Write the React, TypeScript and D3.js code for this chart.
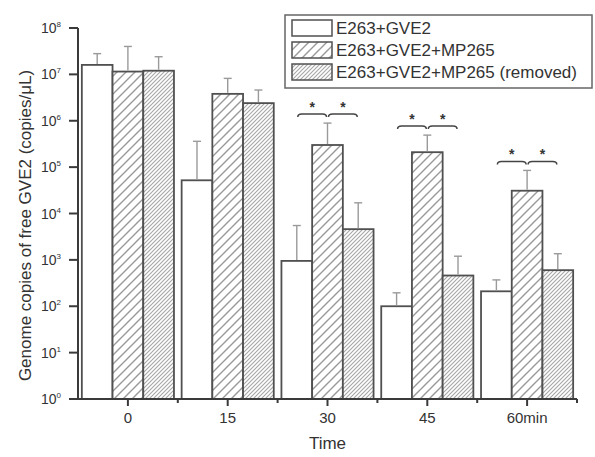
import React, {Component} from 'react';
import * as d3 from 'd3';

const categories = ['0', '15', '30', '45', '60min'];
const seriesNames = ['E263+GVE2', 'E263+GVE2+MP265', 'E263+GVE2+MP265 (removed)'];
const gve2 = [1.6e7, 5.2e4, 9.5e2, 1.0e2, 2.1e2];
const gve2Err = [2.8e7, 3.6e5, 5.5e3, 1.95e2, 3.7e2];
const mp265 = [1.15e7, 3.8e6, 3.0e5, 2.1e5, 3.1e4];
const mp265Err = [4.0e7, 8.2e6, 8.9e5, 4.9e5, 8.5e4];
const removed = [1.2e7, 2.4e6, 4.6e3, 4.6e2, 6.0e2];
const removedErr = [2.4e7, 4.6e6, 1.7e4, 1.2e3, 1.36e3];
const significant = [false, false, true, true, true];
const yTickExps = [0, 1, 2, 3, 4, 5, 6, 7, 8];

const W = 595;
const H = 457;
const FONT = '"Liberation Sans", Arial, sans-serif';

class App extends Component {
    svgRef = React.createRef<SVGSVGElement>();

    componentDidMount() {
        this.draw();
    }

    draw() {
        const svg = d3.select(this.svgRef.current);
        svg.selectAll('*').remove();

        const axisColor = '#3a3a3a';
        const barStroke = '#505050';
        const errColor = '#9a9a9a';

        const defs = svg.append('defs');
        // "/" hatching drawn straight into a square tile (no rotation)
        const addHatch = (id, s, width, color) => {
            const p = defs.append('pattern')
                .attr('id', id)
                .attr('patternUnits', 'userSpaceOnUse')
                .attr('width', s)
                .attr('height', s);
            p.append('rect').attr('width', s).attr('height', s).attr('fill', 'white');
            p.append('path')
                .attr('d', `M0,${s} L${s},0 M-1,1 L1,-1 M${s - 1},${s + 1} L${s + 1},${s - 1}`)
                .attr('stroke', color)
                .attr('stroke-width', width)
                .attr('fill', 'none');
        };
        addHatch('hatchWide', 9, 1.4, '#999');
        addHatch('hatchDense', 4, 1.1, '#a6a6a6');
        const fills = ['white', 'url(#hatchWide)', 'url(#hatchDense)'];

        const x0 = 78, x1 = 577, yBottom = 399, yTop = 28;

        const xScale = d3.scaleBand()
            .domain(categories)
            .range([x0, x1])
            .paddingInner(0)
            .paddingOuter(0);
        const xInner = d3.scaleBand()
            .domain(['0', '1', '2'])
            .range([0, xScale.bandwidth()])
            .paddingOuter(0.125)
            .paddingInner(0);
        const yScale = d3.scaleLog()
            .domain([1, 1e8])
            .range([yBottom, yTop]);

        const series = [gve2, mp265, removed];
        const errs = [gve2Err, mp265Err, removedErr];

        const plot = svg.append('g');

        // bars
        series.forEach((vals, s) => {
            plot.selectAll('.bar' + s)
                .data(vals)
                .join('rect')
                .attr('x', (d, i) => xScale(categories[i]) + xInner(String(s)))
                .attr('y', d => yScale(d))
                .attr('width', xInner.bandwidth())
                .attr('height', d => yBottom - yScale(d))
                .attr('fill', fills[s])
                .attr('stroke', barStroke)
                .attr('stroke-width', 1.8);
        });

        // error bars (upper only)
        series.forEach((vals, s) => {
            vals.forEach((v, i) => {
                const cx = xScale(categories[i]) + xInner(String(s)) + xInner.bandwidth() / 2;
                const top = yScale(errs[s][i]);
                plot.append('line')
                    .attr('x1', cx).attr('x2', cx)
                    .attr('y1', yScale(v) - 1).attr('y2', top)
                    .attr('stroke', errColor).attr('stroke-width', 1.4);
                plot.append('line')
                    .attr('x1', cx - 4).attr('x2', cx + 4)
                    .attr('y1', top).attr('y2', top)
                    .attr('stroke', errColor).attr('stroke-width', 1.4);
            });
        });

        // significance braces
        categories.forEach((c, i) => {
            if (!significant[i]) return;
            const by = yScale(mp265Err[i]) - 9;
            const centers = [0, 1, 2].map(s => xScale(c) + xInner(String(s)) + xInner.bandwidth() / 2);
            [[centers[0], centers[1]], [centers[1], centers[2]]].forEach(([a, b]) => {
                const l = a + 1, r = b - 1;
                plot.append('path')
                    .attr('d', `M${l},${by + 3} Q${l},${by} ${l + 4},${by} L${r - 4},${by} Q${r},${by} ${r},${by + 3}`)
                    .attr('fill', 'none')
                    .attr('stroke', '#444')
                    .attr('stroke-width', 1.5);
                plot.append('text')
                    .attr('x', (a + b) / 2)
                    .attr('y', by - 2)
                    .attr('text-anchor', 'middle')
                    .attr('font-family', FONT)
                    .attr('font-size', 14)
                    .attr('font-weight', 'bold')
                    .attr('fill', '#333')
                    .text('*');
            });
        });

        // axes
        const axes = svg.append('g');
        axes.append('line')
            .attr('x1', x0).attr('x2', x0).attr('y1', yTop).attr('y2', yBottom)
            .attr('stroke', axisColor).attr('stroke-width', 2);
        axes.append('line')
            .attr('x1', x0 - 1).attr('x2', x1).attr('y1', yBottom).attr('y2', yBottom)
            .attr('stroke', axisColor).attr('stroke-width', 2);

        yTickExps.forEach(e => {
            const y = yScale(Math.pow(10, e));
            axes.append('line')
                .attr('x1', x0 - 9).attr('x2', x0).attr('y1', y).attr('y2', y)
                .attr('stroke', axisColor).attr('stroke-width', 2);
            const t = axes.append('text')
                .attr('x', 61)
                .attr('y', y + 5)
                .attr('text-anchor', 'end')
                .attr('font-family', FONT)
                .attr('font-size', 14)
                .attr('fill', '#333');
            t.append('tspan').text('10');
            t.append('tspan')
                .attr('dy', -6)
                .attr('font-size', 8)
                .text(String(e));
        });

        categories.forEach(c => {
            const cx = xScale(c) + xScale.bandwidth() / 2;
            axes.append('line')
                .attr('x1', cx).attr('x2', cx).attr('y1', yBottom).attr('y2', yBottom + 7)
                .attr('stroke', axisColor).attr('stroke-width', 2);
            const edge = xScale(c) + xScale.bandwidth();
            axes.append('line')
                .attr('x1', edge).attr('x2', edge).attr('y1', yBottom).attr('y2', yBottom + 4)
                .attr('stroke', axisColor).attr('stroke-width', 2);
            axes.append('text')
                .attr('x', cx)
                .attr('y', yBottom + 24)
                .attr('text-anchor', 'middle')
                .attr('font-family', FONT)
                .attr('font-size', 15)
                .attr('fill', '#333')
                .text(c);
        });

        axes.append('text')
            .attr('x', (x0 + x1) / 2)
            .attr('y', 449)
            .attr('text-anchor', 'middle')
            .attr('font-family', FONT)
            .attr('font-size', 17)
            .attr('fill', '#333')
            .text('Time');

        axes.append('text')
            .attr('transform', `translate(31, ${(yTop + yBottom) / 2 + 12}) rotate(-90)`)
            .attr('text-anchor', 'middle')
            .attr('font-family', FONT)
            .attr('font-size', 17)
            .attr('fill', '#333')
            .text('Genome copies of free GVE2 (copies/\u03bcL)');

        // legend
        const legend = svg.append('g');
        legend.append('rect')
            .attr('x', 285).attr('y', 15).attr('width', 307).attr('height', 73)
            .attr('fill', 'white')
            .attr('stroke', '#666').attr('stroke-width', 1.5);
        seriesNames.forEach((name, s) => {
            const ry = 20 + s * 22;
            legend.append('rect')
                .attr('x', 292).attr('y', ry).attr('width', 40).attr('height', 16)
                .attr('fill', fills[s])
                .attr('stroke', barStroke).attr('stroke-width', 1.5);
            legend.append('text')
                .attr('x', 336)
                .attr('y', ry + 14)
                .attr('font-family', FONT)
                .attr('font-size', 17)
                .attr('fill', '#333')
                .text(name);
        });
    }

    render() {
        return <svg ref={this.svgRef} width={W} height={H}
            style={{position: 'absolute', left: 0, top: 0, background: 'white'}} />;
    }
}

export default App;
